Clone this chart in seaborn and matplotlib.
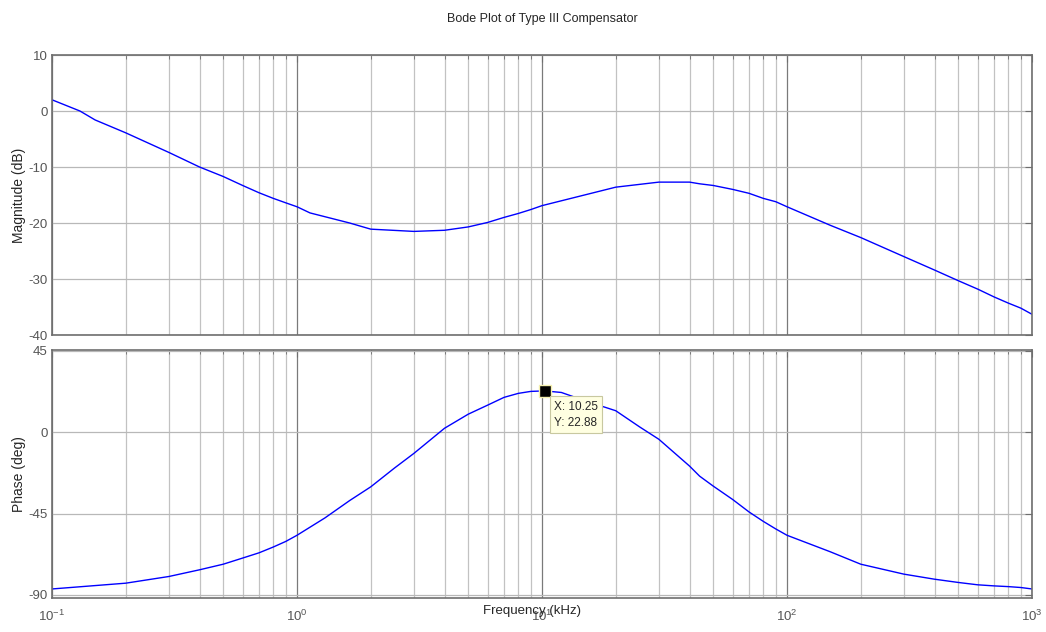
import numpy as np
import pandas as pd
import matplotlib
matplotlib.use("Agg")
import matplotlib.pyplot as plt
import seaborn as sns
from matplotlib.ticker import LogLocator, FixedLocator, NullFormatter

# ---- data ----
freq_mag = [0.1, 0.13, 0.15, 0.2, 0.3, 0.4, 0.5, 0.6, 0.7, 0.8, 0.9, 1.0, 1.13, 1.64,
            2, 3, 4, 5, 6, 7, 8, 9, 10, 20, 30, 40, 44, 50, 60, 70, 80, 90, 100,
            150, 200, 300, 400, 500, 600, 700, 800, 900, 1000]
mag_db = [2.0, 0.0, -1.6, -3.9, -7.4, -10.0, -11.7, -13.3, -14.6, -15.6, -16.4, -17.1, -18.2, -20.0,
          -21.1, -21.5, -21.3, -20.7, -19.9, -19.0, -18.3, -17.6, -16.9, -13.6, -12.7, -12.7, -13.0,
          -13.3, -14.0, -14.7, -15.6, -16.2, -17.1, -20.4, -22.6, -26.0, -28.4, -30.3, -31.8,
          -33.2, -34.3, -35.2, -36.3]

freq_ph = [0.1, 0.2, 0.3, 0.4, 0.5, 0.6, 0.7, 0.8, 0.9, 1.0, 1.3, 1.64, 2, 2.5, 3, 4, 5, 6,
           7, 8, 9, 10.25, 12, 15, 20, 25, 30, 40, 44, 50, 60, 70, 80, 90, 100, 150, 200,
           300, 400, 500, 600, 700, 800, 900, 1000]
phase_deg = [-86.7, -83.5, -79.8, -76.1, -73.0, -69.6, -66.7, -63.5, -60.4, -57.0, -47.4, -37.8,
             -30.2, -19.8, -11.7, 2.2, 10.0, 15.0, 19.3, 21.5, 22.6, 22.88, 22.0, 17.4, 11.9,
             3.0, -3.9, -18.7, -24.3, -29.8, -37.2, -44.1, -49.3, -53.5, -57.0, -66.1, -73.0,
             -78.5, -81.3, -83.1, -84.4, -85.0, -85.4, -85.9, -86.7]

mag_ticks = [-40, -30, -20, -10, 0, 10]
phase_ticks = [-90, -45, 0, 45]
x_ticks = [0.1, 1, 10, 100, 1000]
x_tick_labels = ["$10^{-1}$", "$10^{0}$", "$10^{1}$", "$10^{2}$", "$10^{3}$"]
tip_x, tip_y = 10.25, 22.88

# ---- style ----
sns.set_style("white")
plt.rcParams['font.family'] = ['Liberation Sans', 'DejaVu Sans']
plt.rcParams['mathtext.default'] = 'regular'
plt.rcParams['axes.unicode_minus'] = False

W, H = 1046, 632
fig = plt.figure(figsize=(W / 100, H / 100), dpi=100)
ax1 = fig.add_axes([52 / W, 1 - 335 / H, 980 / W, 280 / H])
ax2 = fig.add_axes([52 / W, 1 - 598 / H, 980 / W, 248 / H], sharex=ax1)

df_mag = pd.DataFrame({"f": freq_mag, "m": mag_db})
df_ph = pd.DataFrame({"f": freq_ph, "p": phase_deg})

sns.lineplot(data=df_mag, x="f", y="m", ax=ax1, color="#0000ff", lw=1.0, sort=True)
sns.lineplot(data=df_ph, x="f", y="p", ax=ax2, color="#0000ff", lw=1.0, sort=True)

edge = "#6e6e6e"
tick_col = "#555555"
for ax in (ax1, ax2):
    ax.set_xscale("log")
    ax.set_xlim(0.1, 1000)
    ax.xaxis.set_major_locator(FixedLocator(x_ticks))
    ax.xaxis.set_minor_locator(LogLocator(base=10, subs=np.arange(2, 10), numticks=20))
    ax.xaxis.set_minor_formatter(NullFormatter())
    ax.grid(True, which="major", axis="x", color="#7a7a7a", lw=0.9)
    ax.grid(True, which="minor", axis="x", color="#c2c2c2", lw=0.9)
    ax.grid(True, which="major", axis="y", color="#b8b8b8", lw=0.9)
    ax.tick_params(which="both", direction="in", top=True, right=True,
                   colors=edge, labelcolor=tick_col, labelsize=9.5)
    ax.tick_params(which="major", length=5, pad=3)
    ax.tick_params(which="minor", length=3)
    for s in ax.spines.values():
        s.set_color(edge)
        s.set_linewidth(1.2)
    ax.set_axisbelow(True)

ax1.set_ylim(-40, 10)
ax1.set_yticks(mag_ticks)
ax1.set_ylabel("Magnitude (dB)", fontsize=10, labelpad=2)
ax1.set_xlabel("")
ax1.tick_params(labelbottom=False)

ax2.set_ylim(-91.7, 45.5)
ax2.set_yticks(phase_ticks)
ax2.set_ylabel("Phase (deg)", fontsize=10, labelpad=2)
ax2.set_xticks(x_ticks)
ax2.set_xticklabels(x_tick_labels)
ax2.tick_params(axis="x", which="major", pad=8)
ax2.set_xlabel("Frequency (kHz)", fontsize=9.5)
ax2.xaxis.set_label_coords(0.49, -0.03)

ax1.set_title("Bode Plot of Type III Compensator", fontsize=9, pad=24)

# data tip
ax2.plot([tip_x], [tip_y], marker="s", ms=8, mfc="black", mec="#f5f0b0", mew=1.0, zorder=5)
ax2.annotate(f"X: {tip_x}\nY: {tip_y}", xy=(tip_x, tip_y), xytext=(7, -7),
             textcoords="offset points", ha="left", va="top", fontsize=8.5,
             linespacing=1.5,
             bbox=dict(boxstyle="square,pad=0.35", fc="#ffffe1", ec="#c8c8a0", lw=0.8),
             zorder=6)

fig.savefig("out.png", dpi=100)
